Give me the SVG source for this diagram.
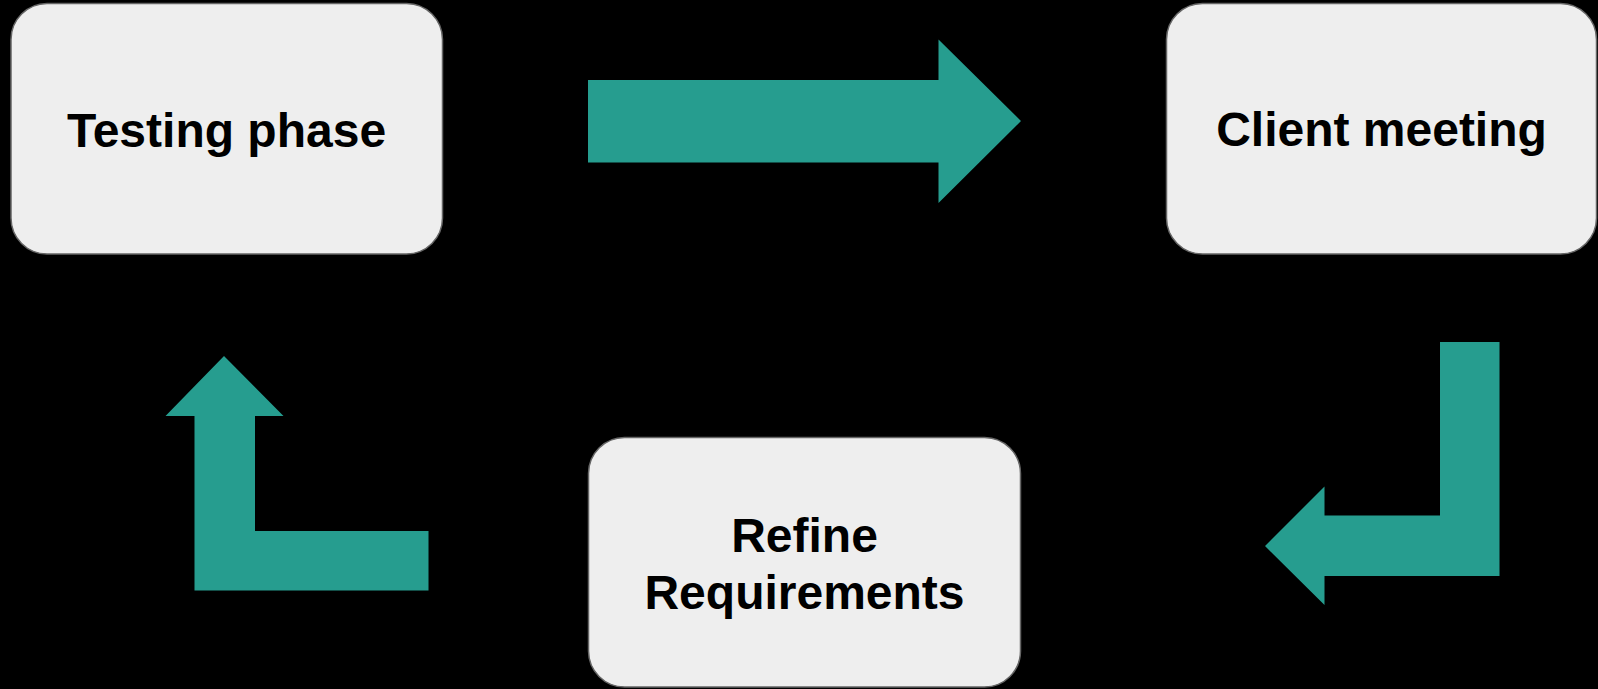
<svg xmlns="http://www.w3.org/2000/svg" width="1598" height="689" viewBox="0 0 1598 689">
<style>
.node rect{fill:#eeeeee;stroke:#666666;stroke-width:1.5}
.node text{font-family:"Liberation Sans",Arial,sans-serif;font-weight:bold;font-size:48px;fill:#000000;text-anchor:middle}
.arrow{fill:#269d8f}
</style>
<rect x="0" y="0" width="1598" height="689" fill="#000000"/>
<g id="testing-phase" class="node">
<rect x="11" y="3.5" width="431.5" height="250.5" rx="36" ry="36"/>
<text x="226.5" y="146.5">Testing phase</text>
</g>
<g id="client-meeting" class="node">
<rect x="1166.5" y="3.5" width="430" height="250.5" rx="36" ry="36"/>
<text x="1381.5" y="146">Client meeting</text>
</g>
<g id="refine-requirements" class="node">
<rect x="588.5" y="437.5" width="432" height="249.5" rx="36" ry="36"/>
<text x="804.5" y="551.5">Refine</text>
<text x="804.5" y="608.5">Requirements</text>
</g>
<g id="connectors">
<polygon class="arrow" points="588,80 938.5,80 938.5,39.5 1021,121 938.5,203 938.5,162.5 588,162.5"/>
<polygon class="arrow" points="1440,342 1499.5,342 1499.5,576 1324.5,576 1324.5,605 1265,546 1324.5,486.5 1324.5,515.5 1440,515.5"/>
<polygon class="arrow" points="428.5,531 255,531 255,416 283.5,416 224,356 165.5,416 194.5,416 194.5,590.5 428.5,590.5"/>
</g>
</svg>
